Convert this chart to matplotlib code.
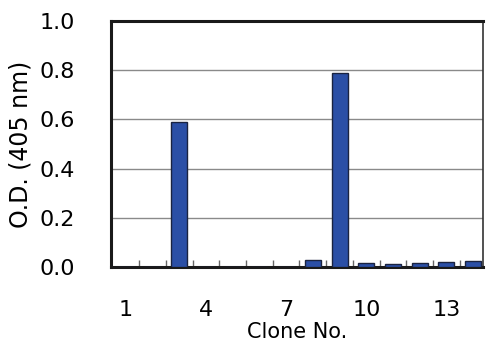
import matplotlib
matplotlib.use("Agg")
import matplotlib.pyplot as plt
import numpy as np

clones = np.arange(1, 15)
od_values = [0.0, 0.0, 0.59, 0.0, 0.0, 0.0, 0.0, 0.03, 0.79, 0.015, 0.012, 0.015, 0.02, 0.025]
x_labels = [1, 4, 7, 10, 13]
y_ticks = [0.0, 0.2, 0.4, 0.6, 0.8, 1.0]

fig = plt.figure(figsize=(4.86, 3.56), dpi=100)
ax = fig.add_axes([0.228, 0.25, 0.766, 0.691])

ax.bar(clones, od_values, width=0.6, color='#2b4fa6', edgecolor='#1a2340', linewidth=1, zorder=3)

ax.set_xlim(0.44, 14.37)
ax.set_ylim(0, 1.0)
ax.set_yticks(y_ticks)
ax.set_yticklabels([f"{v:.1f}" for v in y_ticks])
ax.set_xticks(x_labels)
ax.set_xticks(np.arange(1.5, 14.5, 1), minor=True)

ax.grid(axis='y', color='#8a8a8a', linewidth=1.0, zorder=0)
ax.tick_params(axis='y', length=0, pad=26, labelsize=16)
ax.tick_params(axis='x', which='major', length=0, pad=24, labelsize=16)
ax.tick_params(axis='x', which='minor', direction='in', length=5, width=1, color='#666666')

for side in ['left', 'bottom', 'top']:
    ax.spines[side].set_linewidth(2.2)
    ax.spines[side].set_color('#1a1a1a')
ax.spines['right'].set_linewidth(1.2)
ax.spines['right'].set_color('#333333')

ax.set_ylabel("O.D. (405 nm)", fontsize=17, labelpad=5)
ax.set_xlabel("Clone No.", fontsize=15, labelpad=1)

fig.savefig("out.png", dpi=100)
